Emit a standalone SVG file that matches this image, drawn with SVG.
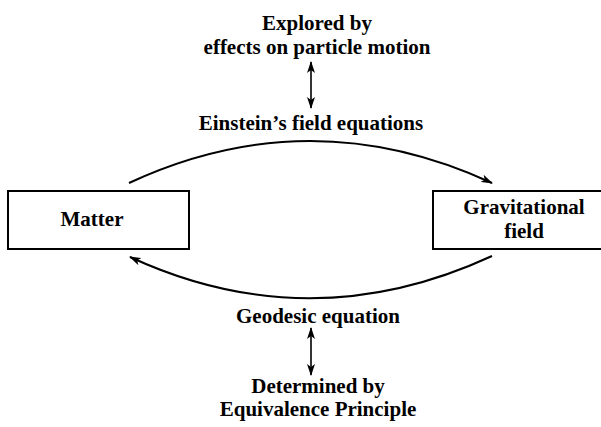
<svg xmlns="http://www.w3.org/2000/svg" width="601" height="427" viewBox="0 0 601 427">
<style>
text{font-family:"Liberation Serif","Times New Roman",serif;font-weight:bold;font-size:21px;fill:#000;text-anchor:middle}
.box{fill:#fff;stroke:#000;stroke-width:2}
.c{fill:none;stroke:#000;stroke-width:2}
.d{fill:none;stroke:#000;stroke-width:1.6}
</style>
<defs>
<marker id="ah" viewBox="0 0 12 8" refX="11" refY="4" markerWidth="12" markerHeight="8" markerUnits="userSpaceOnUse" orient="auto-start-reverse">
<path d="M0,0 L12,4 L0,8 L3,4 z" fill="#000"/>
</marker>
</defs>
<g id="matter">
<rect class="box" x="8" y="191" width="181" height="58"/>
<text x="92" y="226">Matter</text>
</g>
<g id="gravfield">
<rect class="box" x="433" y="191" width="181" height="58"/>
<text x="524" y="214">Gravitational</text>
<text x="524" y="238">field</text>
</g>
<g id="top-label">
<text x="317" y="30">Explored by</text>
<text x="317" y="54">effects on particle motion</text>
<text x="311" y="130">Einstein’s field equations</text>
</g>
<g id="bottom-label">
<text x="318" y="323">Geodesic equation</text>
<text x="318" y="393">Determined by</text>
<text x="318" y="416">Equivalence Principle</text>
</g>
<g id="connectors">
<path class="c" d="M129,183 Q310,99 492,183" marker-end="url(#ah)"/>
<path class="c" d="M492,256 Q310,340 130,257" marker-end="url(#ah)"/>
<path class="d" d="M311,62 L311,108" marker-start="url(#ah)" marker-end="url(#ah)"/>
<path class="d" d="M311,328 L311,375" marker-start="url(#ah)" marker-end="url(#ah)"/>
</g>
</svg>
